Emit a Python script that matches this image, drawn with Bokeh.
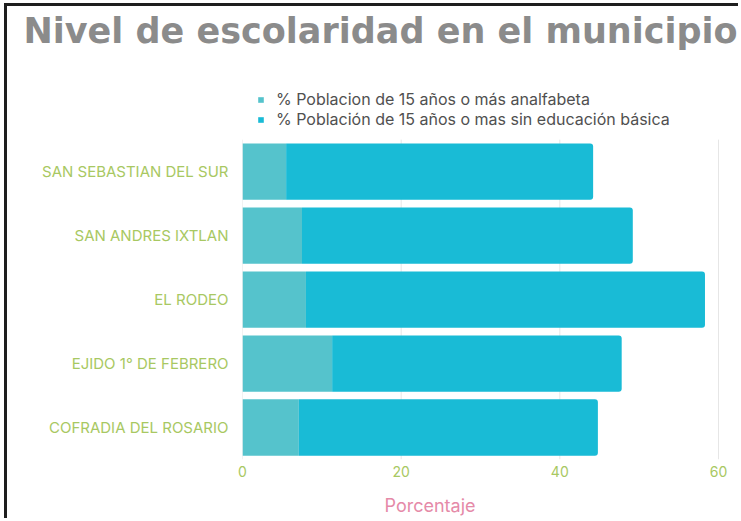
from bokeh.plotting import figure
from bokeh.models import (ColumnDataSource, Range1d, Legend, LegendItem, Title,
                          FixedTicker)
from bokeh.transform import stack
from bokeh.embed import file_html
from bokeh.resources import INLINE

# ---- data ----
municipios = ["SAN SEBASTIAN DEL SUR", "SAN ANDRES IXTLAN", "EL RODEO",
              "EJIDO 1° DE FEBRERO", "COFRADIA DEL ROSARIO"]
analfabeta = [5.5, 7.5, 8.0, 11.3, 7.1]
sin_educacion = [38.7, 41.7, 50.3, 36.5, 37.7]
x_ticks = [0, 20, 40, 60]
serie_labels = ["% Poblacion de 15 años o más analfabeta",
                "% Población de 15 años o mas sin educación básica"]
titulo = "Nivel de escolaridad en el municipio"
eje_x = "Porcentaje"

COL_A = "#55c3cc"
COL_B = "#19bbd6"
GREEN = "#a8c862"
FONT = "Inter"

n = len(municipios)
ypos = [n - i for i in range(n)]          # first municipio on top
src = ColumnDataSource(dict(y=ypos, mun=municipios, a=analfabeta, b=sin_educacion))

p = figure(width=734, height=515, title=None,
           y_range=Range1d(0.5, n + 0.5 + 0.909),
           x_range=Range1d(0, 60.13),
           output_backend="svg", toolbar_location=None,
           min_border_left=235, min_border_right=22,
           min_border_top=74, min_border_bottom=59)
p.styles = {"margin-left": "4px", "margin-top": "3px",
            "border-left": "3px solid #1e1e1e", "border-top": "3px solid #1e1e1e"}
p.outline_line_color = None
p.background_fill_color = "white"
p.border_fill_color = "white"

# vertical grid lines only across the bar area
grid_src = ColumnDataSource(dict(x=x_ticks, y0=[0.5] * len(x_ticks),
                                 y1=[n + 0.5] * len(x_ticks)))
p.segment(x0="x", x1="x", y0="y0", y1="y1", source=grid_src,
          line_color="#e6e6e6", line_width=1)

r1 = p.hbar(y="y", left=0, right=stack("a"), height=0.88, source=src,
            fill_color=COL_A, line_color=None)
r2 = p.hbar(y="y", left=stack("a"), right=stack("a", "b"), height=0.88, source=src,
            fill_color=COL_B, line_color=None, border_radius=(0, 3, 3, 0))

# axes
p.xaxis.ticker = x_ticks
p.yaxis.ticker = FixedTicker(ticks=ypos)
p.yaxis.major_label_overrides = {y: m for y, m in zip(ypos, municipios)}
for ax in (p.xaxis, p.yaxis):
    ax.axis_line_color = None
    ax.major_tick_line_color = None
    ax.minor_tick_line_color = None
    ax.major_label_text_font = FONT
    ax.major_label_text_color = GREEN
    ax.major_label_text_font_size = "14px"
p.yaxis.major_label_text_font_size = "15px"
p.yaxis.major_label_standoff = 8
p.xaxis.major_label_standoff = 0
p.xgrid.visible = False
p.ygrid.visible = False

# legend
legend = Legend(items=[LegendItem(label=serie_labels[0], renderers=[r1]),
                       LegendItem(label=serie_labels[1], renderers=[r2])],
                location=(15, 330), padding=0, margin=0, spacing=0,
                glyph_width=7, glyph_height=7, label_standoff=12,
                label_height=12,
                label_text_font=FONT, label_text_font_size="16px",
                label_text_color="#505050",
                border_line_color=None, background_fill_alpha=0)
p.add_layout(legend)

# title
p.add_layout(Title(text=titulo, align="left", offset=-219, standoff=0,
                   padding=dict(top=2, bottom=31, left=0, right=0),
                   text_font="DejaVu Sans", text_font_style="bold",
                   text_font_size="35px", text_color="#8b8b8b"), "above")

# x axis label
p.add_layout(Title(text=eje_x, align="left", offset=142, standoff=11,
                   padding=dict(top=8, bottom=0, left=0, right=0),
                   text_font=FONT, text_font_style="normal",
                   text_font_size="18px", text_color="#e58aa8"), "below")

open("out.html", "w").write(file_html(p, INLINE))
